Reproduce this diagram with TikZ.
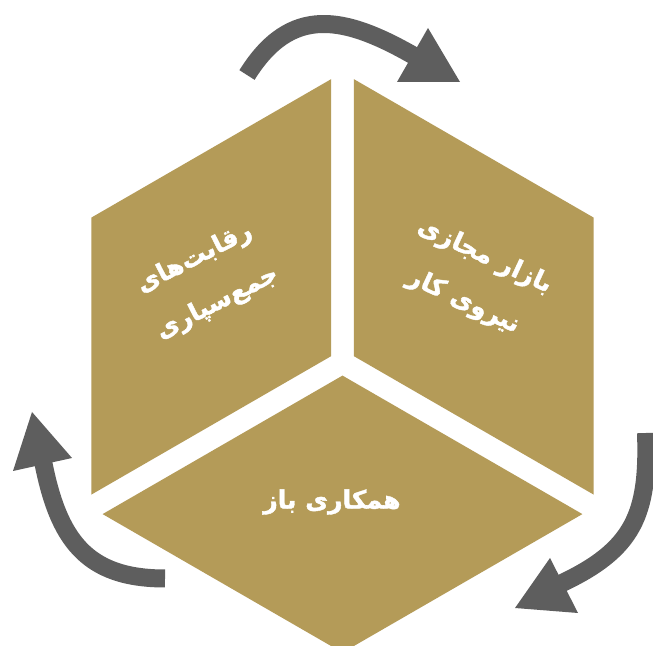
\documentclass[tikz,border=0pt]{standalone}
\usepackage{fontspec}
\usepackage{tikz}
\usetikzlibrary{calc}
\TeXXeTstate=1
\newfontfamily\farsi[Script=Arabic, BoldFeatures={FakeBold=1.6}]{DejaVu Sans}
\definecolor{gold}{HTML}{B49B58}
\definecolor{steel}{HTML}{5E5E5E}

\begin{document}
\begin{tikzpicture}[x=1pt, y=1pt,
  face/.style={fill=gold},
  turn/.style={draw=steel, line width=18pt},
  head/.style={fill=steel},
  facetext/.style={text=white, align=center, font=\farsi\bfseries\fontsize{25}{50}\selectfont}]
\useasboundingbox (0,0) rectangle (653,645);
\fill[white] (0,0) rectangle (653,645);
\coordinate (c) at (342.5,282.4);

% three faces of the cube
\fill[face] ($(c)+(150:13)$) -- ++(90:277) -- ++(210:277) -- ++(270:277) -- cycle;
\fill[face] ($(c)+(30:13)$) -- ++(90:277) -- ++(330:277) -- ++(270:277) -- cycle;
\fill[face] ($(c)+(270:13)$) -- ++(210:277) -- ++(330:277) -- ++(30:277) -- cycle;

\node[facetext, rotate=27] (crowd) at (206,364) {\beginR رقابت‌های\endR\\\beginR جمع‌سپاری\endR};
\node[facetext, rotate=-25] (market) at (474,366) {\beginR بازار مجازی\endR\\\beginR نیروی کار\endR};
\node[facetext] (open) at (332,143) {\beginR همکاری باز\endR};

% turning arrows
\coordinate (t1) at (247,570);
\coordinate (h1) at (416,588);
\coordinate (t2) at (165,66.5);
\coordinate (h2) at (43,184);
\coordinate (t3) at (646,212);
\coordinate (h3) at (560,61);
\draw[turn] (t1) to[out=58, in=150, looseness=1.25] (h1);
\fill[head] (428,617) -- (397,563) -- (460,563) -- cycle;
\draw[turn] (t2) to[out=180, in=281, looseness=1.2] (h2);
\fill[head] (32,233) -- (13,174) -- (72,187) -- cycle;
\draw[turn] (t3) to[out=272, in=25, looseness=1.2] (h3);
\fill[head] (550,87) -- (515,37) -- (578,32) -- cycle;
\end{tikzpicture}
\end{document}
